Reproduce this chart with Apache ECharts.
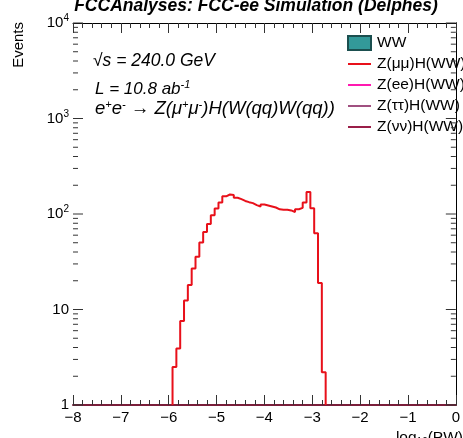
<!DOCTYPE html>
<html>
<head>
<meta charset="utf-8">
<script src="https://cdn.jsdelivr.net/npm/echarts@6/dist/echarts.min.js"></script>
<style>
  html, body { margin: 0; padding: 0; background: #fff; }
  #chart { width: 463px; height: 438px; }
</style>
</head>
<body>
<div id="chart"></div>
<script>
'use strict';

// histogram of log10(PW), 100 bins from -8 to 0; only filled bins listed
var binStart = -5.92,
		binWidth = 0.08,
		zmumuCounts = [2.5, 3.9, 7.6, 12.4, 18.1, 26.8, 35.6, 50.3, 64.6, 78.4,
			97.3, 114, 132, 153, 160, 158, 148, 143, 137, 133,
			130, 124, 120, 126, 123, 120, 117, 112, 111, 111,
			109, 105, 112, 116, 132, 170, 115, 63, 18.9, 2.2];

var seriesNames = ['WW', 'Z(\u03bc\u03bc)H(WW)', 'Z(ee)H(WW)', 'Z(\u03c4\u03c4)H(WW)', 'Z(\u03bd\u03bd)H(WW)'];
var seriesColors = ['#339999', '#e8101a', '#ff19b0', '#a05080', '#9a1e48'];
var xTicks = [-8, -7, -6, -5, -4, -3, -2, -1, 0];
var yDecades = [1, 10, 100, 1000, 10000];
var yMinorSteps = [2, 3, 4, 5, 6, 7, 8, 9];

var FONT = '"Liberation Sans", Arial, sans-serif';
var LINE_ICON = 'path://M0,6h23v2h-23z';

function stepData(start, width, counts) {
	var pts = [[start, 1]];
	for (var i = 0; i < counts.length; i++) {
		pts.push([start + i * width, counts[i]]);
	}
	var end = start + counts.length * width;
	pts.push([end, counts[counts.length - 1]]);
	pts.push([end, 1]);
	return pts;
}

// log axis tick marks (major at decades, minor at 2..9 x decade)
function yTickData() {
	var out = [];
	for (var d = 0; d < yDecades.length; d++) {
		out.push([xTicks[0], yDecades[d], 1]);
		if (d === yDecades.length - 1) break;
		for (var m = 0; m < yMinorSteps.length; m++) {
			out.push([xTicks[0], yDecades[d] * yMinorSteps[m], 0]);
		}
	}
	return out;
}

function yLabel(v) {
	if (v === 1) return '1';
	if (v === 10) return '10';
	return '10{sup|' + Math.round(Math.log10(v)) + '}';
}

var chart = echarts.init(document.getElementById('chart'));

var axisX = {
	type: 'value',
	min: xTicks[0],
	max: xTicks[xTicks.length - 1],
	interval: 1,
	splitLine: {show: false},
	axisLine: {lineStyle: {color: '#000', width: 1}},
	axisTick: {inside: true, length: 10, lineStyle: {color: '#333'}},
	minorTick: {show: true, splitNumber: 5, length: 5, lineStyle: {color: '#333'}}
};

var axisY = {
	type: 'log',
	min: yDecades[0],
	max: yDecades[yDecades.length - 1],
	logBase: 10,
	splitLine: {show: false},
	axisLine: {show: true, lineStyle: {color: '#000', width: 1}},
	axisTick: {show: false},
	minorTick: {show: false}
};

var series = [
	{name: seriesNames[0], type: 'bar', data: [],
		itemStyle: {color: seriesColors[0], borderColor: '#1b4f4f', borderWidth: 1}},
	{name: seriesNames[1], type: 'line', step: 'end', symbol: 'none',
		data: stepData(binStart, binWidth, zmumuCounts),
		lineStyle: {color: seriesColors[1], width: 2}, itemStyle: {color: seriesColors[1]}}
];
for (var s = 2; s < seriesNames.length; s++) {
	series.push({name: seriesNames[s], type: 'line', symbol: 'none', data: [],
		lineStyle: {color: seriesColors[s], width: 2}, itemStyle: {color: seriesColors[s]}});
}
series.push({
	type: 'custom',
	silent: true,
	clip: false,
	z: 5,
	data: yTickData(),
	renderItem: function (params, api) {
		var cs = params.coordSys;
		var y = api.coord([api.value(0), api.value(1)])[1];
		var len = api.value(2) ? 10 : 5;
		var st = {stroke: '#333', lineWidth: 1};
		return {
			type: 'group',
			children: [
				{type: 'line', shape: {x1: cs.x, y1: y, x2: cs.x + len, y2: y}, style: st},
				{type: 'line', shape: {x1: cs.x + cs.width, y1: y, x2: cs.x + cs.width - len, y2: y}, style: st}
			]
		};
	}
});

var legendData = [{name: seriesNames[0], icon: 'rect'}];
for (var k = 1; k < seriesNames.length; k++) {
	legendData.push({name: seriesNames[k], icon: LINE_ICON, itemStyle: {color: seriesColors[k]}});
}

chart.setOption({
	animation: false,
	grid: {left: 73, top: 23, right: 3, bottom: 33},
	xAxis: [
		echarts.util.merge({
			position: 'bottom',
			axisLine: {lineStyle: {color: '#7a1e3a', width: 2}},
			axisLabel: {
				color: '#000', fontFamily: FONT, fontSize: 15, margin: 5,
				formatter: function (v) { return String(v).replace('-', '\u2212'); }
			}
		}, axisX, false),
		echarts.util.merge({position: 'top', axisLabel: {show: false}}, axisX, false)
	],
	yAxis: [
		echarts.util.merge({
			position: 'left',
			axisLabel: {
				color: '#000', fontFamily: FONT, fontSize: 15, margin: 4,
				formatter: yLabel,
				rich: {sup: {fontSize: 10, verticalAlign: 'top', padding: [0, 0, 9, 0], fontFamily: FONT}}
			}
		}, axisY, false),
		echarts.util.merge({position: 'right', axisLabel: {show: false}}, axisY, false)
	],
	legend: {
		data: legendData,
		orient: 'vertical',
		left: 347,
		top: 35,
		padding: 0,
		itemWidth: 23,
		itemHeight: 14,
		itemGap: 5,
		textStyle: {color: '#000', fontFamily: FONT, fontSize: 15.5, padding: [0, 0, 0, 1]}
	},
	graphic: [
		{type: 'text', x: 256, y: -3, style: {
			text: 'FCCAnalyses: FCC-ee Simulation (Delphes)', fill: '#000',
			font: 'italic bold 17.5px ' + FONT, align: 'center'}},
		{type: 'text', x: 19, y: 22, rotation: Math.PI / 2, style: {
			text: 'Events', fill: '#000', font: '15px ' + FONT,
			align: 'right', verticalAlign: 'middle'}},
		{type: 'text', x: 463, y: 429, style: {
			text: 'log{sub|10}(PW)', fill: '#000', font: '15.5px ' + FONT, align: 'right',
			rich: {sub: {fontSize: 10, padding: [8, 0, 0, 0], fontFamily: FONT}}}},
		{type: 'text', x: 93, y: 61, style: {
			text: '\u221As = 240.0 GeV', fill: '#000', font: 'italic 17.5px ' + FONT,
			verticalAlign: 'middle'}},
		{type: 'text', x: 95, y: 89, style: {
			text: 'L = 10.8 ab{sup|-1}', fill: '#000', font: 'italic 17px ' + FONT,
			verticalAlign: 'middle',
			rich: {sup: {fontSize: 11, verticalAlign: 'top', padding: [0, 0, 9, 0], fontStyle: 'italic', fontFamily: FONT}}}},
		{type: 'text', x: 95, y: 109, style: {
			text: 'e{sup|+}e{sup|-} \u2192 Z(\u03bc{sup|+}\u03bc{sup|-})H(W(qq)W(qq))', fill: '#000',
			font: 'italic 18.5px ' + FONT,
			verticalAlign: 'middle',
			rich: {sup: {fontSize: 11, verticalAlign: 'top', padding: [0, 0, 9, 0], fontStyle: 'italic', fontFamily: FONT}}}}
	],
	series: series
});
</script>
</body>
</html>
